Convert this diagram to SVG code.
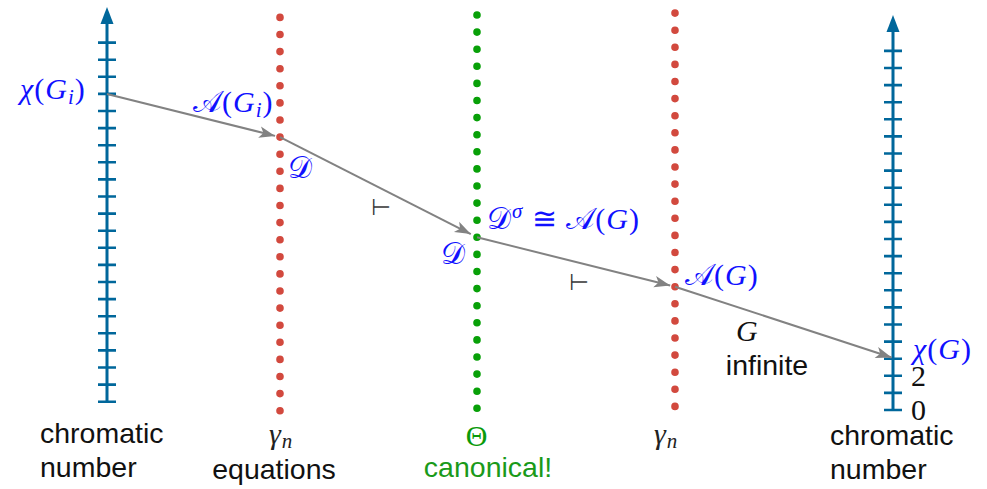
<svg xmlns="http://www.w3.org/2000/svg" width="987" height="489" viewBox="0 0 987 489">
<style>
.axis{stroke:#00679b;stroke-width:3;fill:none}
.tick{stroke:#00679b;stroke-width:2.6;fill:none}
.head{fill:#00679b}
.dots{fill:none;stroke-dasharray:0 17.1;stroke-linecap:round;stroke-width:7.6}
.red{stroke:#d2493e}
.green{stroke:#08a008}
.conn{stroke:#828282;stroke-width:2;fill:none}
.m{font-family:"Liberation Serif","DejaVu Serif",serif;font-size:30px;letter-spacing:1px}
.i{font-style:italic}
.blue{fill:#1010ff}
.s{font-family:"Liberation Sans",Arial,sans-serif;font-size:28.5px;fill:#111}
.turn{font-family:"DejaVu Sans",sans-serif;font-size:23px;fill:#3a3a3a}
</style>
<defs>
<marker id="arr" markerUnits="userSpaceOnUse" markerWidth="20" markerHeight="20" refX="0" refY="0" orient="auto" overflow="visible">
<path d="M0,0 L-16,-5.8 L-12,0 L-16,5.8 Z" fill="#828282"/>
</marker>
</defs>

<g id="left-axis">
<line class="axis" x1="107" y1="402" x2="107" y2="20"/>
<path class="head" d="M107,7 L100.5,24 L113.5,24 Z"/>
<path class="tick" d="M98,401.7h18M98,384.6h18M98,367.5h18M98,350.4h18M98,333.3h18M98,316.2h18M98,299.1h18M98,282h18M98,264.9h18M98,247.8h18M98,230.7h18M98,213.6h18M98,196.5h18M98,179.4h18M98,162.3h18M98,145.2h18M98,128.1h18M98,111h18M98,93.9h18M98,76.8h18M98,59.7h18M98,42.6h18"/>
</g>

<g id="right-axis">
<line class="axis" x1="893" y1="410.3" x2="893" y2="28"/>
<path class="head" d="M893,15 L886.5,32 L899.5,32 Z"/>
<path class="tick" d="M884,410h18M884,392.9h18M884,375.8h18M884,358.7h18M884,341.6h18M884,324.5h18M884,307.4h18M884,290.3h18M884,273.2h18M884,256.1h18M884,239h18M884,221.9h18M884,204.8h18M884,187.7h18M884,170.6h18M884,153.5h18M884,136.4h18M884,119.3h18M884,102.2h18M884,85.1h18M884,68h18M884,50.9h18"/>
</g>

<g id="gamma-left">
<line class="dots red" x1="280" y1="17.4" x2="280" y2="411"/>
</g>
<g id="theta">
<line class="dots green" x1="477" y1="15" x2="477" y2="408.6"/>
</g>
<g id="gamma-right">
<line class="dots red" x1="675" y1="13.1" x2="675" y2="406.7"/>
</g>

<g id="connectors">
<line class="conn" x1="107" y1="94" x2="275.1" y2="135.9" marker-end="url(#arr)"/>
<line class="conn" x1="280" y1="137.1" x2="470.8" y2="234.1" marker-end="url(#arr)"/>
<line class="conn" x1="477" y1="237.3" x2="670.2" y2="285.5" marker-end="url(#arr)"/>
<line class="conn" x1="675" y1="286.7" x2="891.6" y2="357.5" marker-end="url(#arr)"/>
</g>

<g id="labels">
<text class="m blue" x="20" y="99"><tspan class="i">χ</tspan>(<tspan class="i">G</tspan><tspan class="i" font-size="21" dy="5">i</tspan><tspan dy="-5">)</tspan></text>
<text class="m blue" x="193" y="112"><tspan>𝒜</tspan>(<tspan class="i">G</tspan><tspan class="i" font-size="21" dy="5">i</tspan><tspan dy="-5">)</tspan></text>
<text class="m blue" x="288" y="178">𝒟</text>
<text class="turn" x="371" y="215">⊢</text>
<text class="m blue" x="487" y="229">𝒟<tspan font-size="21" class="i" dy="-11">σ</tspan><tspan dy="11"> ≅ 𝒜(</tspan><tspan class="i">G</tspan>)</text>
<text class="m blue" x="441" y="264">𝒟</text>
<text class="turn" x="569" y="290">⊢</text>
<text class="m blue" x="685" y="285">𝒜(<tspan class="i">G</tspan>)</text>
<text class="m i" x="736" y="341" fill="#111">G</text>
<text class="s" x="767" y="375" text-anchor="middle">infinite</text>
<text class="m blue" x="913" y="359"><tspan class="i">χ</tspan>(<tspan class="i">G</tspan>)</text>
<text class="m" x="911" y="386" fill="#111" font-size="27">2</text>
<text class="m" x="911" y="420" fill="#111" font-size="27">0</text>
<text class="s" x="40" y="443">chromatic</text>
<text class="s" x="40" y="477">number</text>
<text class="m" x="269" y="444" fill="#222"><tspan class="i">γ</tspan><tspan class="i" font-size="21" dy="4">n</tspan></text>
<text class="m" x="477" y="446" text-anchor="middle" fill="#0a9a0a">Θ</text>
<text class="s" x="274" y="479" text-anchor="middle">equations</text>
<text class="s" x="488" y="477" text-anchor="middle" style="fill:#1a9a1a">canonical!</text>
<text class="m" x="654" y="444" fill="#222"><tspan class="i">γ</tspan><tspan class="i" font-size="21" dy="4">n</tspan></text>
<text class="s" x="830" y="445">chromatic</text>
<text class="s" x="830" y="479">number</text>
</g>
</svg>
